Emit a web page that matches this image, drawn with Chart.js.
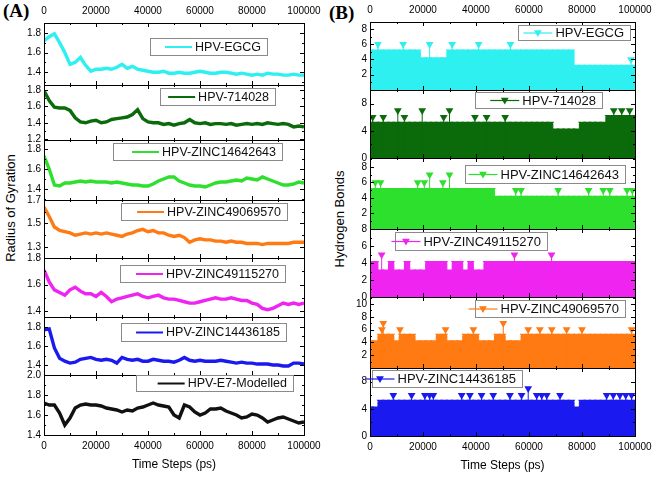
<!DOCTYPE html>
<html>
<head>
<meta charset="utf-8">
<script src="https://cdn.jsdelivr.net/npm/chart.js@4.4.1/dist/chart.umd.min.js"></script>
<style>
  body { margin: 0; background: #fff; width: 656px; height: 479px; position: relative; overflow: hidden;
         font-family: "Liberation Sans", Arial, sans-serif; color: #000; }
  canvas { position: absolute; }
  .tag { position: absolute; font: bold 19px "Liberation Serif", "Times New Roman", serif; }
  .yt { position: absolute; white-space: nowrap; font-size: 13px; transform: translate(-50%, -50%) rotate(-90deg); }
</style>
</head>
<body>
<div class="tag" style="left:3px;top:0px">(A)</div>
<div class="tag" style="left:329px;top:2px">(B)</div>
<div class="yt" style="left:10px;top:208px">Radius of Gyration</div>
<div class="yt" style="left:339px;top:219px">Hydrogen Bonds</div>
<script>
const FONT = '"Liberation Sans", Arial, sans-serif';

// time axis (ps)
const steps = [0,2000,4000,6000,8000,10000,12000,14000,16000,18000,20000,22000,24000,26000,28000,30000,
  32000,34000,36000,38000,40000,42000,44000,46000,48000,50000,52000,54000,56000,58000,60000,62000,64000,
  66000,68000,70000,72000,74000,76000,78000,80000,82000,84000,86000,88000,90000,92000,94000,96000,98000,100000];
const timeTicks = [0,20000,40000,60000,80000,100000];

// (A) radius of gyration, read every 2000 ps
const rgEGCG = [1.72,1.76,1.79,1.70,1.60,1.48,1.50,1.55,1.47,1.41,1.43,1.43,1.44,1.43,1.45,1.48,1.44,1.46,1.43,1.42,
  1.41,1.40,1.40,1.41,1.39,1.39,1.40,1.39,1.39,1.40,1.41,1.40,1.39,1.39,1.40,1.40,1.39,1.38,1.39,1.38,
  1.37,1.38,1.37,1.39,1.38,1.38,1.37,1.37,1.38,1.37,1.37];
const rg714 = [1.79,1.67,1.59,1.58,1.58,1.55,1.46,1.41,1.40,1.42,1.43,1.40,1.41,1.44,1.45,1.46,1.47,1.50,1.56,1.45,
  1.41,1.40,1.40,1.38,1.39,1.37,1.39,1.40,1.44,1.40,1.39,1.40,1.38,1.39,1.39,1.38,1.39,1.37,1.38,1.39,
  1.38,1.39,1.38,1.40,1.39,1.38,1.39,1.38,1.35,1.36,1.35];
const rg146 = [1.73,1.60,1.44,1.43,1.46,1.46,1.47,1.48,1.47,1.48,1.47,1.47,1.47,1.46,1.47,1.46,1.45,1.44,1.44,1.43,
  1.43,1.45,1.48,1.50,1.52,1.52,1.48,1.46,1.44,1.43,1.43,1.42,1.44,1.46,1.47,1.47,1.48,1.49,1.48,1.51,
  1.50,1.49,1.52,1.50,1.48,1.46,1.44,1.44,1.45,1.47,1.46];
const rg490 = [1.64,1.56,1.47,1.44,1.43,1.42,1.40,1.41,1.42,1.41,1.42,1.41,1.42,1.41,1.40,1.39,1.41,1.42,1.44,1.45,
  1.43,1.44,1.42,1.42,1.40,1.39,1.40,1.38,1.34,1.36,1.37,1.36,1.36,1.35,1.35,1.34,1.35,1.34,1.34,1.33,
  1.33,1.33,1.32,1.33,1.33,1.33,1.33,1.33,1.34,1.34,1.34];
const rg491 = [1.71,1.62,1.56,1.54,1.52,1.56,1.58,1.55,1.53,1.53,1.51,1.54,1.51,1.47,1.49,1.50,1.51,1.52,1.53,1.51,
  1.50,1.51,1.52,1.50,1.49,1.49,1.48,1.47,1.46,1.46,1.47,1.48,1.49,1.50,1.49,1.49,1.50,1.49,1.48,1.48,
  1.46,1.45,1.42,1.41,1.42,1.44,1.46,1.45,1.46,1.45,1.46];
const rg144 = [1.77,1.78,1.58,1.47,1.44,1.42,1.43,1.46,1.47,1.48,1.46,1.45,1.46,1.45,1.42,1.48,1.46,1.45,1.46,1.44,
  1.44,1.46,1.45,1.44,1.44,1.43,1.45,1.48,1.45,1.44,1.45,1.44,1.44,1.44,1.45,1.44,1.43,1.42,1.43,1.42,
  1.42,1.41,1.41,1.41,1.40,1.40,1.39,1.39,1.42,1.42,1.41];
const rgE7 = [1.72,1.70,1.70,1.62,1.50,1.57,1.67,1.70,1.71,1.70,1.70,1.69,1.67,1.66,1.65,1.63,1.65,1.64,1.67,1.68,
  1.70,1.72,1.70,1.69,1.68,1.60,1.57,1.70,1.68,1.63,1.60,1.62,1.66,1.66,1.67,1.64,1.62,1.60,1.57,1.58,
  1.61,1.60,1.57,1.53,1.55,1.57,1.58,1.56,1.54,1.52,1.53];

const tkA1 = [1.4,1.6,1.8];
const tkA2 = [1.2,1.4,1.6,1.8];
const tkA3 = [1.4,1.6,1.8];
const tkA4 = [1.3,1.4,1.5,1.6,1.7];
const tkA5 = [1.4,1.5,1.6,1.7,1.8];
const tkA6 = [1.4,1.6,1.8];
const tkA7 = [1.4,1.5,1.6,1.7,1.8,1.9,2.0];

// (B) hydrogen bonds: usual top level every 2000 ps, plus single peaks [time, count]
const hbEGCG = [5,5,5,5,5,5,5,5,5,5, 4,4,4,4,4, 5,5,5,5,5,5,5,5,5,5,5,5,5,5,5,5,5,5,5,5,5,5,5,5,
  3,3,3,3,3,3,3,3,3,3,3,3];
const pkEGCG = [[3000,6],[12500,6],[22500,6],[31000,6],[41000,6],[53000,6],[98500,4]];
const hb714 = [5,5,5,5,5,5,5,5,5,5,5,5,5,5,5,5,5,5,5,5,5,5,5,5,5,5,5,5,5,5,5,5,5,5,5,
  4,4,4,4,4, 5,5,5,5,5, 6,6,6,6,6,6];
const pk714 = [[1000,6],[5000,6],[10500,7],[13000,6],[19700,7],[27800,6],[30000,7],[39600,6],[44000,6],
  [51000,6],[92000,7],[95000,7],[98000,7]];
const hb146 = [5,5,5,5,5,5,5,5,5,5,5,5,5,5,5,5,5,5,5,5,5,5,5,5,
  4,4,4,4,4,4,4,4,4,4,4,4,4,4,4,4,4,4,4,4,4,4,4,4,4,4,4];
const pk146 = [[2000,6],[4000,6],[18000,6],[20500,6],[22500,7],[27500,6],[30000,7],[55000,5],[57000,5],
  [71000,5],[82500,5],[88000,5],[90500,5],[97000,5],[99000,5]];
const hb491 = [4,4,3,3,4,3,3,4,3,3,3,4,4,4,4,3,4,4,3,4,3,3,
  4,4,4,4,4,4,4,4,4,4,4,4,4,4,4,4,4,4,4,4,4,4,4,4,4,4,4,4,4];
const pk491 = [[4400,5],[54500,5],[68500,5]];
const hb490 = [4,4,5,5,5,4,5,5,5,4,4,4,4,5,5,4,4,4,5,5,5,4,4,4,5,5,4,4,4,
  5,5,5,5,5,5,5,5,5,5,5,5,5,5,5,5,5,5,5,5,5,5];
const pk490 = [[4500,6],[5000,7],[11300,6],[28500,6],[39000,6],[50300,7],[59700,6],[64100,6],[68600,6],
  [74200,6],[80000,6],[98700,6]];
const hb144 = [4,4, 5,5,5,5,5,5,5,5,5,5,5,5,5,5,5,5,5,5,5,5,5,5,5,5,5,5,5,5,5,5,5,5,5,5,5,5,5,
  4, 5,5,5,5,5,5,5,5,5,5,5];
const pk144 = [[8800,6],[15700,6],[20700,6],[22500,6],[23900,6],[34600,6],[37700,6],[42100,6],[46500,6],
  [52800,6],[57200,6],[59700,7],[62900,6],[64800,6],[66700,6],[71700,6],[89300,6],[91800,6],[94300,6],
  [96500,6],[98700,6]];

const tkB1 = [2,4,6,8];
const tkB2 = [0,2,4,6,8,10];
const tkB3 = [2,4,6,8];
const tkB4 = [0,2,4,6,8];
const tkB5 = [2,4,6,8,10];
const tkB6 = [0,2,4,6,8,10];

const C_CYAN = '#2ef0f0', C_DGREEN = '#0b6b0b', C_GREEN = '#2ee02e', C_ORANGE = '#ff7a12',
      C_MAGENTA = '#f024f0', C_BLUE = '#1a1af0', C_BLACK = '#111';

const panelsA = [
  { label: 'HPV-EGCG', vals: rgEGCG, color: C_CYAN, top: 23, bottom: 85, min: 1.27, max: 1.9, ticks: tkA1, leg: { x: 106, y: 15, w: 117, h: 17 } },
  { label: 'HPV-714028', vals: rg714, color: C_DGREEN, top: 85, bottom: 140, min: 1.19, max: 1.86, ticks: tkA2, leg: { x: 116, y: 3, w: 115, h: 17 } },
  { label: 'HPV-ZINC14642643', vals: rg146, color: C_GREEN, top: 140, bottom: 200, min: 1.29, max: 1.89, ticks: tkA3, leg: { x: 69, y: 3, w: 169, h: 17 } },
  { label: 'HPV-ZINC49069570', vals: rg490, color: C_ORANGE, top: 200, bottom: 258, min: 1.206, max: 1.7, ticks: tkA4, leg: { x: 77, y: 3, w: 166, h: 17 } },
  { label: 'HPV-ZINC49115270', vals: rg491, color: C_MAGENTA, top: 258, bottom: 317, min: 1.355, max: 1.8, ticks: tkA5, leg: { x: 76, y: 7, w: 165, h: 17 } },
  { label: 'HPV-ZINC14436185', vals: rg144, color: C_BLUE, top: 317, bottom: 375, min: 1.295, max: 1.905, ticks: tkA6, leg: { x: 77, y: 6, w: 165, h: 18 } },
  { label: 'HPV-E7-Modelled', vals: rgE7, color: C_BLACK, top: 375, bottom: 435, min: 1.4, max: 2.0, ticks: tkA7, leg: { x: 92, y: 0, w: 157, h: 16 } }
];

const panelsB = [
  { label: 'HPV-EGCG', lvl: hbEGCG, pk: pkEGCG, color: C_CYAN, top: 22, bottom: 90, min: 0, max: 8.9, ticks: tkB1, leg: { x: 148, y: 3, w: 112, h: 15 } },
  { label: 'HPV-714028', lvl: hb714, pk: pk714, color: C_DGREEN, top: 90, bottom: 158, min: 0, max: 10, ticks: tkB2, leg: { x: 105, y: 2, w: 127, h: 16 } },
  { label: 'HPV-ZINC14642643', lvl: hb146, pk: pk146, color: C_GREEN, top: 158, bottom: 229, min: 0, max: 9.16, ticks: tkB3, leg: { x: 95, y: 7, w: 160, h: 18 } },
  { label: 'HPV-ZINC49115270', lvl: hb491, pk: pk491, color: C_MAGENTA, top: 229, bottom: 297, min: 0, max: 8.05, ticks: tkB4, leg: { x: 25, y: 3, w: 152, h: 18 } },
  { label: 'HPV-ZINC49069570', lvl: hb490, pk: pk490, color: C_ORANGE, top: 297, bottom: 368, min: 0, max: 11.1, ticks: tkB5, leg: { x: 105, y: 3, w: 150, h: 17 } },
  { label: 'HPV-ZINC14436185', lvl: hb144, pk: pk144, color: C_BLUE, top: 368, bottom: 436, min: 0, max: 10, ticks: tkB6, leg: { x: 2, y: 2, w: 150, h: 17 } }
];

// frame with inward major/minor ticks on all four sides
const frameTicks = {
  id: 'frameTicks',
  afterDatasetsDraw(chart) {
    const { ctx, chartArea: a, scales: { x, y } } = chart;
    ctx.save();
    ctx.strokeStyle = '#000';
    ctx.lineWidth = 1;
    ctx.beginPath();
    const yt = y.ticks.map(t => t.value);
    const st = yt[1] - yt[0];
    for (let k = -4; k <= yt.length * 2 + 4; k++) {
      const v = yt[0] + k * st / 2;
      if (v < y.min - 1e-9 || v > y.max + 1e-9) continue;
      const py = Math.round(y.getPixelForValue(v)) + 0.5;
      const len = k % 2 === 0 ? 4 : 2;
      ctx.moveTo(a.left, py); ctx.lineTo(a.left + len, py);
      ctx.moveTo(a.right, py); ctx.lineTo(a.right - len, py);
    }
    for (let v = 0; v <= 100000; v += 10000) {
      const px = Math.round(x.getPixelForValue(v)) + 0.5;
      const len = v % 20000 === 0 ? 4 : 2;
      ctx.moveTo(px, a.top); ctx.lineTo(px, a.top + len);
      ctx.moveTo(px, a.bottom); ctx.lineTo(px, a.bottom - len);
    }
    ctx.stroke();
    ctx.strokeRect(Math.round(a.left) + 0.5, Math.round(a.top) + 0.5, Math.round(a.right - a.left), Math.round(a.bottom - a.top));
    ctx.restore();
  }
};

function downTriangle(ctx, cx, cy, r) {
  ctx.beginPath();
  ctx.moveTo(cx - r * 0.866, cy - r / 2);
  ctx.lineTo(cx + r * 0.866, cy - r / 2);
  ctx.lineTo(cx, cy + r);
  ctx.closePath();
  ctx.fill();
}

// boxed legend inside each panel
const boxLeg = {
  id: 'boxLeg',
  afterDraw(chart, args, o) {
    const { ctx, chartArea: a } = chart;
    const x = Math.round(a.left + o.x), y = Math.round(a.top + o.y);
    ctx.save();
    ctx.fillStyle = '#fff';
    ctx.fillRect(x, y, o.w, o.h);
    ctx.strokeStyle = '#8a8a8a';
    ctx.lineWidth = 1;
    ctx.strokeRect(x + 0.5, y + 0.5, o.w, o.h);
    ctx.font = o.size + 'px ' + FONT;
    const tw = ctx.measureText(o.text).width;
    const tx = x + o.w - 6 - tw;
    const my = y + o.h / 2 + 0.5;
    ctx.strokeStyle = o.color;
    ctx.lineWidth = o.marker ? 1.2 : 2;
    const l0 = o.marker ? tx - 32 : tx - 30, l1 = tx - 3;
    ctx.beginPath(); ctx.moveTo(l0, my); ctx.lineTo(l1, my); ctx.stroke();
    if (o.marker) {
      ctx.fillStyle = o.color;
      downTriangle(ctx, (l0 + l1) / 2, my - 0.5, 4.5);
    }
    ctx.fillStyle = '#111';
    ctx.textBaseline = 'middle';
    ctx.fillText(o.text, tx, my + 0.5);
    ctx.restore();
  }
};

function addPanel(p, colLeft, colRight, first, last, datasets, fmt, legSize) {
  const padL = 40, padR = 24;
  const padT = first ? 24 : 16, padB = last ? 42 : 16;
  const showX = first || last;
  const w = colRight - colLeft, h = p.bottom - p.top;
  const cv = document.createElement('canvas');
  cv.width = padL + w + padR;
  cv.height = padT + h + padB;
  cv.style.left = (colLeft - padL) + 'px';
  cv.style.top = (p.top - padT) + 'px';
  document.body.appendChild(cv);
  const tickFont = { family: FONT, size: 10 };
  new Chart(cv, {
    type: 'line',
    data: { datasets },
    options: {
      responsive: false,
      animation: false,
      layout: { padding: { left: 0, right: padR, top: first ? 0 : padT, bottom: last ? 0 : padB } },
      plugins: {
        legend: { display: false },
        tooltip: { enabled: false },
        boxLeg: Object.assign({}, p.leg, { text: p.label, color: p.color, marker: !!p.pk, size: legSize })
      },
      scales: {
        x: {
          type: 'linear', min: 0, max: 100000, offset: false,
          display: showX,
          position: first ? 'top' : 'bottom',
          afterBuildTicks: s => { s.ticks = timeTicks.map(v => ({ value: v })); },
          afterFit: s => { if (showX) s.height = first ? padT : padB; },
          grid: { display: false, drawTicks: false, offset: false },
          border: { display: false },
          ticks: { font: tickFont, color: '#000', padding: first ? 6 : 5, maxRotation: 0, callback: v => String(v) },
          title: { display: last, text: 'Time Steps (ps)', font: { family: FONT, size: 12 }, color: '#000', padding: { top: 4, bottom: 5 } }
        },
        y: {
          type: 'linear', min: p.min, max: p.max,
          afterBuildTicks: s => { s.ticks = p.ticks.map(v => ({ value: v })); },
          afterFit: s => { s.width = padL; },
          grid: { display: false, drawTicks: false },
          border: { display: false },
          ticks: { font: tickFont, color: '#000', padding: 3, callback: fmt }
        }
      }
    },
    plugins: [frameTicks, boxLeg]
  });
}

panelsA.forEach((p, i) => {
  const ds = [{
    data: steps.map((t, k) => ({ x: t, y: p.vals[k] })),
    borderColor: p.color, borderWidth: 3.4, pointRadius: 0, tension: 0, fill: false
  }];
  addPanel(p, 44, 304, i === 0, i === panelsA.length - 1, ds, v => v.toFixed(1), 12.5);
});

panelsB.forEach((p, i) => {
  // each peak: a stem from 0 up to the count, topped by a down triangle
  const stems = p.pk.flatMap(([x, y]) => [{ x, y: 0 }, { x, y }, { x, y: null }]);
  const ds = [
    {
      data: stems, borderColor: p.color, borderWidth: 1, spanGaps: false, fill: false,
      pointStyle: 'triangle', rotation: 180, pointBorderWidth: 0,
      pointRadius: c => (c.dataIndex % 3 === 1 ? 4.5 : 0),
      pointBackgroundColor: p.color
    },
    {
      data: steps.map((t, k) => ({ x: t, y: p.lvl[k] })),
      borderColor: p.color, backgroundColor: p.color, borderWidth: 1, fill: 'origin', stepped: 'middle',
      pointStyle: 'triangle', rotation: 180, pointRadius: 4.5, pointBackgroundColor: p.color, pointBorderWidth: 0
    }
  ];
  addPanel(p, 370, 635, i === 0, i === panelsB.length - 1, ds, v => String(v), 13);
});
</script>
</body>
</html>
